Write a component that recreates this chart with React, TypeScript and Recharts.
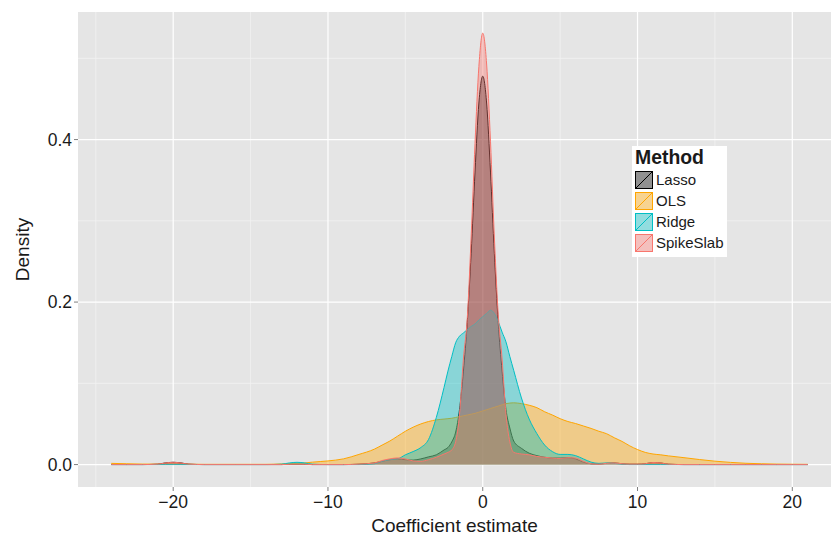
import React from 'react';
import {
  AreaChart,
  Area,
  XAxis,
  YAxis,
  CartesianGrid,
  Legend,
} from 'recharts';

// coefficient grid (shared by all four density curves)
const xs = [
  -24, -23, -22, -21, -20.5, -20, -19.5, -19, -18, -16, -14, -13, -12.5, -12, -11.5, -11, -10, -9, -8,
  -7, -6.5, -6, -5.5, -5, -4.5, -4, -3.5, -3, -2.5, -2.25, -2, -1.75, -1.5, -1.25, -1, -0.75, -0.5, -0.25,
  0, 0.25, 0.5, 0.75, 1, 1.25, 1.5, 1.75, 2, 2.5, 3, 3.5, 4, 4.5, 5, 5.5, 6, 6.5, 7,
  7.5, 8, 8.5, 9, 9.5, 10, 10.5, 11, 11.5, 12, 13, 14, 15, 16, 17, 18, 19, 20, 21,
];

const lasso = [
  0, 0, 0, 0.0005, 0.002, 0.0028, 0.002, 0.0005, 0, 0, 0, 0, 0.0003, 0.0005, 0.0003, 0, 0, 0, 0.0005,
  0.002, 0.004, 0.006, 0.007, 0.006, 0.0055, 0.007, 0.0095, 0.012, 0.018, 0.021, 0.028, 0.04, 0.068, 0.115, 0.175, 0.26, 0.36, 0.445,
  0.478, 0.445, 0.36, 0.26, 0.175, 0.115, 0.068, 0.045, 0.029, 0.02, 0.014, 0.011, 0.009, 0.008, 0.008, 0.0085, 0.007, 0.003, 0.001,
  0.0008, 0.0015, 0.002, 0.001, 0.0005, 0.0005, 0.001, 0.0025, 0.002, 0.0005, 0, 0, 0, 0, 0, 0, 0, 0, 0,
];

const ols = [
  0.0015, 0.001, 0.0006, 0.0005, 0.0005, 0.0005, 0.0005, 0.0004, 0.0003, 0.0003, 0.0003, 0.0008, 0.0012, 0.0015, 0.002, 0.003, 0.0045, 0.007, 0.0125,
  0.019, 0.024, 0.029, 0.035, 0.041, 0.046, 0.05, 0.053, 0.055, 0.056, 0.0565, 0.057, 0.058, 0.059, 0.06, 0.061, 0.062, 0.063, 0.0645,
  0.066, 0.0675, 0.069, 0.0705, 0.072, 0.0735, 0.075, 0.0757, 0.076, 0.075, 0.073, 0.07, 0.065, 0.061, 0.0565, 0.053, 0.0505, 0.0475, 0.0445,
  0.041, 0.038, 0.033, 0.0285, 0.023, 0.0185, 0.015, 0.013, 0.012, 0.0107, 0.0085, 0.0062, 0.0042, 0.0027, 0.0016, 0.001, 0.0006, 0.0004, 0.0003,
];

const ridge = [
  0, 0, 0, 0, 0, 0, 0, 0, 0, 0, 0, 0.0005, 0.002, 0.0028, 0.002, 0.0005, 0, 0, 0,
  0.001, 0.004, 0.006, 0.007, 0.012, 0.016, 0.021, 0.031, 0.058, 0.095, 0.115, 0.133, 0.15, 0.158, 0.162, 0.166, 0.17, 0.173, 0.178,
  0.182, 0.186, 0.19, 0.186, 0.176, 0.163, 0.151, 0.133, 0.116, 0.082, 0.056, 0.038, 0.024, 0.016, 0.0125, 0.0125, 0.011, 0.007, 0.003,
  0.0015, 0.002, 0.0015, 0.0005, 0, 0, 0, 0, 0, 0, 0, 0, 0, 0, 0, 0, 0, 0, 0,
];

const spikeSlab = [
  0, 0, 0, 0.0005, 0.002, 0.0028, 0.002, 0.0005, 0, 0, 0, 0, 0.0003, 0.0005, 0.0003, 0, 0, 0, 0.0005,
  0.002, 0.005, 0.007, 0.0082, 0.007, 0.0045, 0.004, 0.006, 0.009, 0.013, 0.015, 0.018, 0.028, 0.062, 0.13, 0.18, 0.28, 0.395, 0.49,
  0.531, 0.493, 0.398, 0.28, 0.185, 0.13, 0.062, 0.028, 0.015, 0.013, 0.012, 0.01, 0.009, 0.008, 0.0075, 0.0085, 0.008, 0.004, 0.001,
  0.0005, 0.0015, 0.002, 0.001, 0.0005, 0.0005, 0.001, 0.0025, 0.002, 0.0005, 0, 0, 0, 0, 0, 0, 0, 0, 0,
];

const methods = ['Lasso', 'OLS', 'Ridge', 'SpikeSlab'];
const colors = ['#000000', '#FFA500', '#00BFC4', '#F8766D'];
const series = [lasso, ols, ridge, spikeSlab];

const xTicks = [-20, -10, 0, 10, 20];
const xMinor = [-25, -15, -5, 5, 15];
const yTicks = [0, 0.2, 0.4];
const yMinor = [0.1, 0.3, 0.5];

const data = xs.map((x, i) => {
  const row: Record<string, number> = { x };
  methods.forEach((m, j) => {
    row[m] = series[j][i];
  });
  return row;
});

const TEXT = '#1a1a1a';

const MethodLegend = () => (
  <div style={{ background: '#fff', padding: '2px 3px 4px 3px', fontSize: 15, color: TEXT, lineHeight: 1 }}>
    <div style={{ fontWeight: 'bold', fontSize: 19.4, marginBottom: 2 }}>Method</div>
    {methods.map((m, i) => (
      <div key={m} style={{ display: 'flex', alignItems: 'center', height: 21 }}>
        <svg width={18} height={18} style={{ marginRight: 3 }}>
          <rect x={0} y={0} width={18} height={18} fill="#f2f2f2" />
          <rect x={0.5} y={0.5} width={17} height={17} fill={colors[i]} fillOpacity={0.4} stroke={colors[i]} strokeWidth={1} />
          <line x1={0.5} y1={17.5} x2={17.5} y2={0.5} stroke={colors[i]} strokeWidth={1} />
        </svg>
        <span>{m}</span>
      </div>
    ))}
  </div>
);

export default function App() {
  return (
    <div style={{ position: 'absolute', left: 0, top: 0, fontFamily: '"Liberation Sans", Arial, sans-serif' }}>
      <AreaChart width={831} height={536} data={data} margin={{ top: 12, right: 0, bottom: 0, left: 0 }}>
        <CartesianGrid fill="#e5e5e5" stroke="#f2f2f2" strokeWidth={0.8} verticalValues={xMinor} horizontalValues={yMinor} />
        <CartesianGrid stroke="#ffffff" strokeWidth={1.2} verticalValues={xTicks} horizontalValues={yTicks} />
        <XAxis
          type="number"
          dataKey="x"
          domain={[-26.15, 22.5]}
          allowDataOverflow
          ticks={xTicks}
          height={49}
          axisLine={false}
          tickSize={4}
          tickMargin={5}
          tickLine={{ stroke: '#7f7f7f' }}
          tick={{ fill: TEXT, fontSize: 17.5 }}
          tickFormatter={(v: number) => String(v).replace('-', '\u2212')}
          label={{
            content: ({ viewBox }: any) => (
              <text x={viewBox.x + viewBox.width / 2} y={viewBox.y + 45} textAnchor="middle" fontSize={19} fill={TEXT}>
                Coefficient estimate
              </text>
            ),
          }}
        />
        <YAxis
          type="number"
          domain={[-0.0276, 0.557]}
          allowDataOverflow
          ticks={yTicks}
          width={78}
          axisLine={false}
          tickSize={4}
          tickMargin={2}
          tickLine={{ stroke: '#7f7f7f' }}
          tick={{ fill: TEXT, fontSize: 17.5 }}
          tickFormatter={(v: number) => v.toFixed(1)}
          label={{
            content: ({ viewBox }: any) => {
              const cx = viewBox.x + 29;
              const cy = viewBox.y + viewBox.height / 2;
              return (
                <text x={cx} y={cy} transform={`rotate(-90, ${cx}, ${cy})`} textAnchor="middle" fontSize={19} fill={TEXT}>
                  Density
                </text>
              );
            },
          }}
        />
        {methods.map((m, i) => (
          <Area
            key={m}
            type="monotone"
            dataKey={m}
            name={m}
            stroke={colors[i]}
            strokeWidth={1}
            fill={colors[i]}
            fillOpacity={0.4}
            baseValue={0}
            dot={false}
            activeDot={false}
            isAnimationActive={false}
          />
        ))}
        <Legend
          layout="vertical"
          align="center"
          verticalAlign="middle"
          content={<MethodLegend />}
          wrapperStyle={{ left: 632, top: 146, width: 'auto', height: 'auto' }}
        />
      </AreaChart>
    </div>
  );
}
